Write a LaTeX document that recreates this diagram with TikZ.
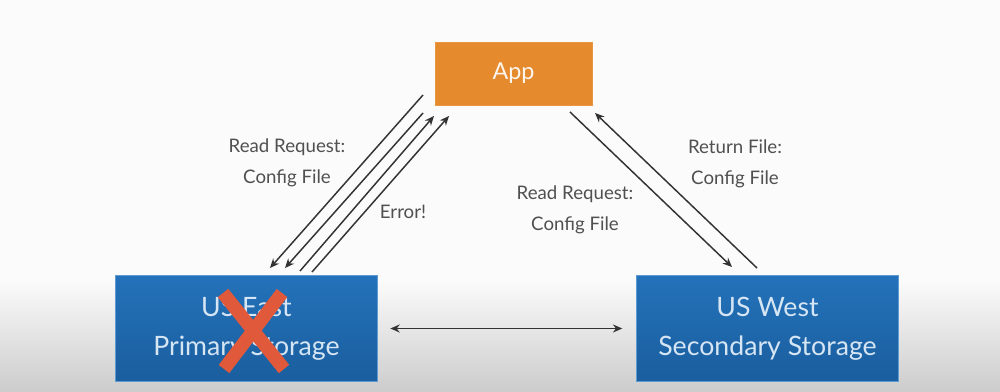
\documentclass[tikz,border=0pt]{standalone}
\usepackage{fontspec}
\setmainfont{Lato}
\usetikzlibrary{arrows.meta,calc}
\definecolor{appfill}{HTML}{E68A2E}
\definecolor{boxtop}{HTML}{2472BA}
\definecolor{boxbot}{HTML}{1A5E9E}
\definecolor{boxedge}{HTML}{5E9BD3}
\definecolor{boxtext}{HTML}{D5E5F4}
\definecolor{labeltext}{HTML}{505050}
\definecolor{arrowgray}{HTML}{333333}
\definecolor{crossred}{HTML}{E0593B}
\tikzset{
  storebox/.style={draw=boxedge, line width=0.8pt, top color=boxtop, bottom color=boxbot,
    minimum width=197pt, minimum height=80pt, inner sep=0pt, align=center,
    text=boxtext, font=\fontsize{20}{29}\selectfont},
  appbox/.style={fill=appfill, draw=appfill!90!white, minimum width=118pt, minimum height=47pt,
    inner sep=0pt, text=white!92!appfill, font=\fontsize{17.5}{20}\selectfont},
  lbl/.style={text=labeltext, align=center, font=\fontsize{14}{23}\selectfont},
  link/.style={draw=arrowgray, line width=1.1pt, -{Stealth[length=7pt,width=6pt]}},
  twoway/.style={draw=arrowgray, line width=1.1pt, {Stealth[length=7pt,width=6pt]}-{Stealth[length=7pt,width=6pt]}},
  cross/.style={draw=crossred, line width=10pt}
}
\begin{document}
\begin{tikzpicture}[x=0.75pt,y=-0.75pt]
  % canvas with the soft grey floor
  \fill[white!98.5!black] (0,0) rectangle (1000,280);
  \shade[top color=white!98.5!black, bottom color=white!80!black] (0,280) rectangle (1000,392);

  % boxes
  \node[appbox] (app) at (513.5,73.5) {App};
  \node[storebox] (east) at (246.5,328.5) {US East\\Primary Storage};
  \node[storebox] (west) at (767.5,328.5) {US West\\Secondary Storage};

  % end points of the parallel connectors
  \coordinate (l1a) at (423,95);  \coordinate (l1b) at (270,268);
  \coordinate (l2a) at (423,113); \coordinate (l2b) at (285,268);
  \coordinate (l3a) at (300,271); \coordinate (l3b) at (434,116);
  \coordinate (l4a) at (312,272); \coordinate (l4b) at (449,116);
  \coordinate (r1a) at (570,112); \coordinate (r1b) at (732,267);
  \coordinate (r2a) at (757,268); \coordinate (r2b) at (595,113);

  % App <-> US East
  \draw[link] (l1a) -- (l1b);
  \draw[link] (l2a) -- (l2b);
  \draw[link] (l3a) -- (l3b);
  \draw[link] (l4a) -- (l4b);

  % App <-> US West
  \draw[link] (r1a) -- (r1b);
  \draw[link] (r2a) -- (r2b);

  % replication between the regions
  \draw[twoway] ([xshift=-10pt]west.west) -- ([xshift=9pt]east.east);

  % labels
  \node[lbl] (lreq) at (287,163) {Read Request:\\Config File};
  \node[lbl] (lerr) at (403,212) {Error!};
  \node[lbl] (rreq) at (575,210) {Read Request:\\Config File};
  \node[lbl] (rret) at (735,164) {Return File:\\Config File};

  % failed region
  \draw[cross] (223,293) -- (284,369);
  \draw[cross] (282,293) -- (224,369);
\end{tikzpicture}
\end{document}
